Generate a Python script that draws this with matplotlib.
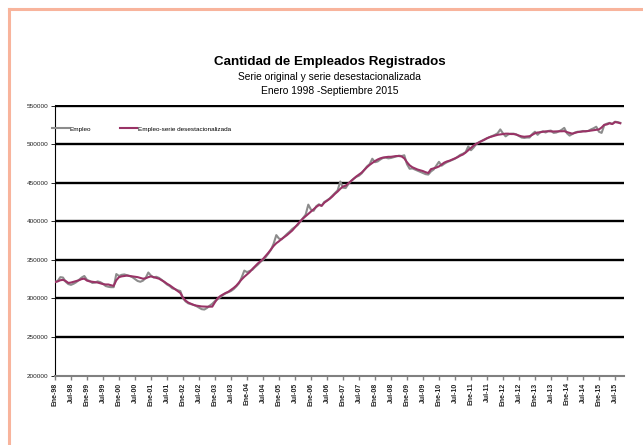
import matplotlib
matplotlib.use("Agg")
import matplotlib.pyplot as plt
from matplotlib.lines import Line2D
import numpy as np

plt.rcParams['font.family'] = ['Liberation Sans', 'DejaVu Sans']

title = "Cantidad de Empleados Registrados"
subtitle1 = "Serie original y serie desestacionalizada"
subtitle2 = "Enero 1998 -Septiembre 2015"
series_names = ["Empleo", "Empleo-serie desestacionalizada"]

# Monthly values, Jan-1998 .. Sep-2015
empleo = [
    321500, 322500, 327500, 327000, 321500, 318500, 317500, 319000, 321000, 324000, 327000, 329000,  # 1998
    324000, 322500, 320000, 320500, 322000, 321000, 319000, 316000, 315000, 314500, 314500, 331500,  # 1999
    329000, 330500, 331000, 330000, 329000, 327500, 325000, 322500, 321500, 323000, 326500, 333500,  # 2000
    329500, 327000, 328000, 326500, 324000, 321000, 318000, 316000, 313000, 312000, 310500, 309500,  # 2001
    300000, 296000, 293500, 292500, 291500, 290000, 288000, 286000, 285500, 287500, 290500, 293000,  # 2002
    296500, 299000, 301500, 304500, 306500, 308000, 309500, 312000, 315500, 319500, 327000, 336000,  # 2003
    334000, 335500, 337000, 340500, 343500, 347000, 350000, 353500, 358000, 363000, 371000, 382000,  # 2004
    377500, 376500, 380000, 383500, 386500, 390000, 392500, 395000, 399500, 404000, 408500, 421500,  # 2005
    415000, 413500, 419500, 422000, 420000, 425000, 427000, 429500, 433000, 436500, 440000, 451500,  # 2006
    443500, 443000, 448000, 452000, 455000, 457500, 459000, 462000, 466500, 471000, 474000, 481000,  # 2007
    476500, 477500, 480000, 482000, 482500, 481500, 482000, 483000, 484000, 485000, 484500, 485500,  # 2008
    474000, 468000, 468500, 467000, 465500, 464000, 462500, 461000, 460500, 464500, 467000, 472000,  # 2009
    477000, 472000, 474500, 476500, 478000, 479500, 481000, 483500, 486000, 487500, 489500, 497000,  # 2010
    492000, 495500, 500000, 502500, 504000, 506000, 507500, 509000, 510500, 512000, 514000, 519000,  # 2011
    514000, 510000, 512500, 513500, 513500, 512500, 510500, 508500, 508000, 508500, 508500, 513000,  # 2012
    516000, 512000, 515500, 516500, 515000, 517000, 517500, 514500, 515000, 516500, 518500, 521000,  # 2013
    514000, 511000, 513000, 515000, 516000, 516000, 517000, 516500, 517000, 519000, 520500, 522500,  # 2014
    516000, 514500, 524500, 526500, 527500, 526000, 529000, 528500, 527500,                          # 2015
]

desest = [
    321000, 322000, 323500, 324000, 322500, 320000, 320500, 321500, 322500, 323500, 325000, 325500,  # 1998
    323000, 322000, 321500, 321000, 320500, 319500, 318500, 318000, 318000, 317000, 316200, 323500,  # 1999
    327500, 328500, 329000, 329500, 329000, 328500, 328000, 327500, 326500, 325500, 326000, 327500,  # 2000
    328500, 327500, 326500, 325500, 323500, 321500, 319000, 317000, 314500, 312000, 309500, 307000,  # 2001
    301000, 297000, 294500, 293000, 291500, 290600, 290000, 289500, 289300, 289200, 289300, 289300,  # 2002
    295000, 300000, 303000, 305000, 307000, 308500, 311000, 313500, 316500, 320500, 324500, 328000,  # 2003
    331000, 334000, 338000, 341500, 345000, 348000, 351000, 355000, 359000, 363500, 368000, 371500,  # 2004
    374000, 377000, 379500, 382000, 385000, 388000, 392000, 396000, 400000, 403500, 406500, 409500,  # 2005
    412500, 415500, 418500, 421000, 420000, 424000, 426500, 429000, 432000, 435500, 438500, 442000,  # 2006
    445000, 446000, 449000, 452000, 455000, 458000, 460500, 463000, 466500, 470000, 473000, 475500,  # 2007
    478000, 480000, 481500, 482500, 483000, 483500, 483500, 484000, 484500, 484500, 484000, 481500,  # 2008
    476500, 472500, 470000, 468500, 467000, 466000, 465000, 463500, 462500, 467500, 468500, 469500,  # 2009
    471000, 473500, 476000, 477500, 478500, 480000, 481500, 483000, 485000, 486500, 489000, 492000,  # 2010
    495000, 498000, 500500, 502000, 504000, 505500, 507500, 509000, 510000, 511000, 512000, 512500,  # 2011
    513000, 513500, 513500, 513000, 513000, 512300, 511000, 510000, 509500, 509800, 510200, 512000,  # 2012
    514000, 515000, 515300, 516000, 516500, 516600, 516500, 516300, 516500, 516600, 516600, 516800,  # 2013
    515500, 514500, 513500, 514500, 515500, 516000, 516300, 516600, 517000, 517500, 518000, 518500,  # 2014
    519000, 521500, 525000, 525500, 527000, 526000, 528500, 528000, 527000,                          # 2015
]

years = list(range(98, 100)) + list(range(0, 16))
tick_labels = []
for y in years:
    for mname in ["Ene", "Jul"]:
        tick_labels.append(f"{mname}-{y:02d}")
tick_labels = tick_labels[:36]  # Ene-98 .. Jul-15

fig = plt.figure(figsize=(6.43, 4.45), dpi=100)
ax = fig.add_axes([55/643, 1 - 375.5/445, (624-55)/643, (375.5-105.2)/445])

x = np.arange(len(empleo))
ax.plot(x, empleo, color="#8c8c8c", lw=1.5, label=series_names[0], zorder=3)
ax.plot(x, desest, color="#993366", lw=1.5, label=series_names[1], zorder=4)

ax.set_xlim(0, 213.4)
ax.set_ylim(200000, 550400)
ax.set_yticks(np.arange(200000, 550001, 50000))
ax.set_yticklabels([f"{int(v)}" for v in np.arange(200000, 550001, 50000)], fontsize=4.6)
ax.set_xticks(np.arange(0, 36*6, 6))
ax.set_xticklabels(tick_labels, rotation=90, fontsize=5, fontweight="bold", color="#222222")

ax.yaxis.grid(True, color="black", lw=1.7)
ax.set_axisbelow(True)
fig.canvas.draw()
ax.get_ygridlines()[0].set_visible(False)

for s in ["top", "right"]:
    ax.spines[s].set_visible(False)
ax.spines["left"].set_color("black")
ax.spines["left"].set_linewidth(0.8)
ax.spines["bottom"].set_color("#808080")
ax.spines["bottom"].set_linewidth(1.5)
ax.tick_params(axis="y", length=3, width=0.6, pad=1.5, colors="black", labelcolor="#222222")
ax.tick_params(axis="x", length=3, width=1.0, pad=2, colors="#808080", labelcolor="#222222")

leg = ax.legend(loc="center left", bbox_to_anchor=(-0.005, 0.912), ncol=2, frameon=False,
                fontsize=4.6, handlelength=2.6, handletextpad=0.15, columnspacing=4.5,
                borderaxespad=0, borderpad=0)

fig.text(0.513, 1 - 62/445, title, ha="center", va="center", fontsize=9.6, fontweight="bold")
fig.text(0.513, 1 - 76.5/445, subtitle1, ha="center", va="center", fontsize=7.4)
fig.text(0.513, 1 - 90.5/445, subtitle2, ha="center", va="center", fontsize=7.4)

border = "#F8B49C"
fig.add_artist(Line2D([9/643, 1], [1 - 9/445, 1 - 9/445], color=border, lw=2.2, transform=fig.transFigure))
fig.add_artist(Line2D([9/643, 9/643], [0, 1 - 9/445], color=border, lw=2.2, transform=fig.transFigure))

fig.savefig("out.png", dpi=100)
